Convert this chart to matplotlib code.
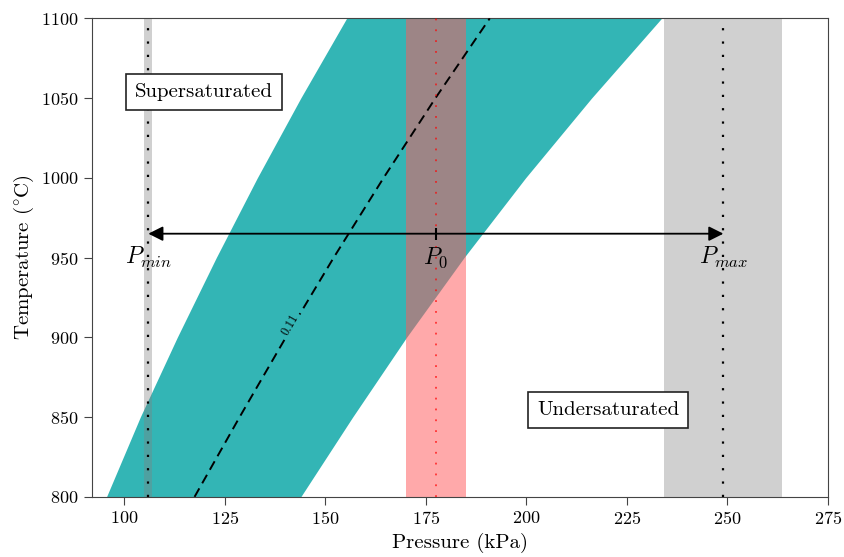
import numpy as np
import matplotlib
matplotlib.use('Agg')
import matplotlib.pyplot as plt

plt.rcParams['font.family'] = 'serif'
plt.rcParams['font.serif'] = ['cmr10']
plt.rcParams['mathtext.fontset'] = 'cm'
plt.rcParams['axes.formatter.use_mathtext'] = True

# saturation window boundaries, pressure (kPa) at each temperature (C)
temps = [800, 850, 900, 950, 1000, 1050, 1100]
p_low = [95.6, 104.0, 113.2, 122.9, 133.1, 143.9, 155.3]
p_high = [143.9, 156.8, 170.2, 184.5, 199.8, 216.2, 233.6]
p_contour = [117.5, 128.7, 140.2, 152.1, 164.5, 177.4, 190.9]
contour_level = 0.11

# operating pressures and their spread
p_min, p_min_band = 106.0, (105.0, 107.0)
p_0, p_0_band = 177.5, (170.0, 185.0)
p_max, p_max_band = 249.0, (234.2, 263.6)
arrow_temp = 965

teal = '#33b5b5'

fig, ax = plt.subplots(figsize=(8.44, 5.57), dpi=100)
fig.subplots_adjust(left=0.109, right=0.981, top=0.967, bottom=0.108)

ax.fill_betweenx(temps, p_low, p_high, color=teal, lw=0, zorder=1)
ax.plot(p_contour, temps, color='black', ls=(0, (5, 3)), lw=1.4, zorder=3)
ax.text(141.4, 908, f'{contour_level}', rotation=60, fontsize=9,
        ha='center', va='center', zorder=4,
        bbox=dict(facecolor=teal, edgecolor='none', pad=1.5))

ax.axvspan(*p_min_band, color='gray', alpha=0.37, lw=0, zorder=2)
ax.axvspan(*p_max_band, color='gray', alpha=0.37, lw=0, zorder=2)
ax.axvspan(*p_0_band, color='#ff5a5c', alpha=0.52, lw=0, zorder=2)
ax.axvline(p_min, color='black', ls=(0, (1, 5)), lw=1.6, zorder=3)
ax.axvline(p_max, color='black', ls=(0, (1, 5)), lw=1.6, zorder=3)
ax.axvline(p_0, color='red', ls=(0, (1, 5)), lw=1.3, alpha=0.7, zorder=3)

ax.annotate('', xy=(p_min, arrow_temp), xytext=(p_max, arrow_temp),
            arrowprops=dict(arrowstyle='<|-|>', color='black', lw=1.3,
                            mutation_scale=22, shrinkA=0, shrinkB=0),
            zorder=5)
ax.plot([p_0], [arrow_temp], marker='|', color='black', ms=9, mew=1.5, zorder=5)
for p, name in [(p_min, 'P_{min}'), (p_0, 'P_0'), (p_max, 'P_{max}')]:
    ax.text(p, 950, f'${name}$', fontsize=17, ha='center', va='center', zorder=5)

box = dict(facecolor='white', edgecolor='#222222', lw=1.2, pad=6.5)
ax.text(119.8, 1054, 'Supersaturated', fontsize=15, ha='center', va='center',
        bbox=box, zorder=6)
ax.text(220.3, 854.5, 'Undersaturated', fontsize=15, ha='center', va='center',
        bbox=box, zorder=6)

ax.set_xlim(92, 275)
ax.set_ylim(800, 1100)
ax.set_xticks(np.arange(100, 276, 25))
ax.set_yticks(np.arange(800, 1101, 50))
ax.tick_params(labelsize=13, length=6, color='#444444')
for s in ax.spines.values():
    s.set_color('#444444')
ax.set_xlabel('Pressure (kPa)', fontsize=15)
ax.set_ylabel(r'Temperature ($^{\circ}$C)', fontsize=15)

fig.savefig('out.png', dpi=100)
